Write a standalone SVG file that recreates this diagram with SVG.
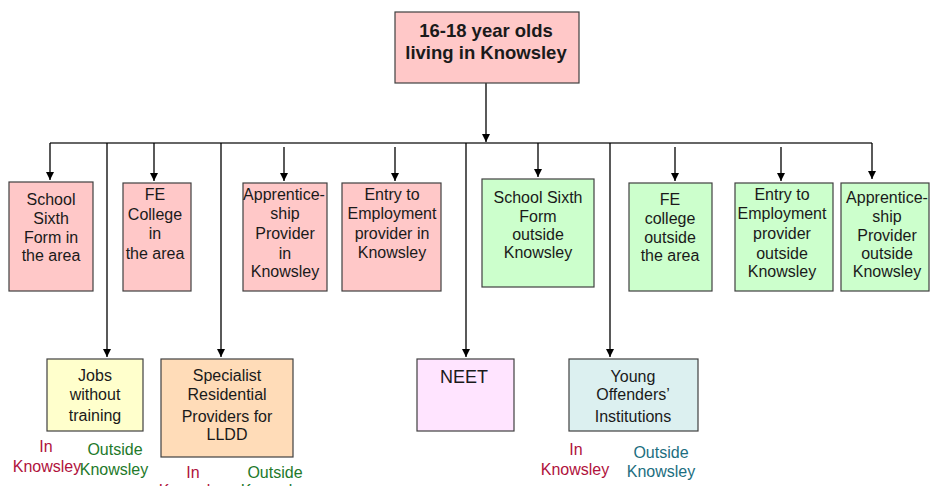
<svg xmlns="http://www.w3.org/2000/svg" width="930" height="486" viewBox="0 0 930 486">
<defs>
<marker id="ah" viewBox="0 0 10 10" refX="10" refY="5" markerWidth="8" markerHeight="8" markerUnits="userSpaceOnUse" orient="auto">
<path d="M0,0 L10,5 L0,10 z" fill="#000"/>
</marker>
<style>
.box{stroke:#404040;stroke-width:1.2}
.pink{fill:#ffc8c8}
.green{fill:#ccffcc}
.yellow{fill:#ffffcc}
.peach{fill:#ffdcb8}
.lilac{fill:#ffe4ff}
.aqua{fill:#dcf0f0}
text{font-family:"Liberation Sans",Arial,sans-serif;font-size:16px;fill:#1a1a1a;text-anchor:middle}
.title{font-size:18.5px;font-weight:bold}
.neet{font-size:18px;text-anchor:start}
.in{fill:#b0123c}
.outg{fill:#23792a}
.outt{fill:#1c6e80}
.ln{stroke:#333;stroke-width:1.3;fill:none}
.ar{stroke:#000;stroke-width:1.3;fill:none;marker-end:url(#ah)}
</style>
</defs>
<g id="connectors">
<line class="ar" x1="486" y1="83" x2="486" y2="142"/>
<line class="ln" x1="50" y1="143" x2="872" y2="143"/>
<line class="ar" x1="50" y1="143" x2="50" y2="180"/>
<line class="ar" x1="154" y1="143" x2="154" y2="181"/>
<line class="ar" x1="284" y1="147" x2="284" y2="181"/>
<line class="ar" x1="395" y1="147" x2="395" y2="181"/>
<line class="ar" x1="538" y1="143" x2="538" y2="177"/>
<line class="ar" x1="675" y1="147" x2="675" y2="181"/>
<line class="ar" x1="781" y1="147" x2="781" y2="181"/>
<line class="ar" x1="872" y1="143" x2="872" y2="179"/>
<line class="ar" x1="107" y1="143" x2="107" y2="357"/>
<line class="ar" x1="221" y1="143" x2="221" y2="357"/>
<line class="ar" x1="466" y1="143" x2="466" y2="357"/>
<line class="ar" x1="610" y1="143" x2="610" y2="357"/>
</g>
<g id="root">
<rect class="box pink" x="395" y="12" width="184" height="71"/>
<text class="title" x="486" y="37">16-18 year olds</text>
<text class="title" x="486" y="59">living in Knowsley</text>
</g>
<g id="school-sixth-in">
<rect class="box pink" x="9" y="182" width="84" height="109"/>
<text x="51" y="205">School</text>
<text x="51" y="224">Sixth</text>
<text x="51" y="243">Form in</text>
<text x="51" y="261">the area</text>
</g>
<g id="fe-college-in">
<rect class="box pink" x="123" y="183" width="68" height="108"/>
<text x="155" y="200">FE</text>
<text x="155" y="220">College</text>
<text x="155" y="239">in</text>
<text x="155" y="259">the area</text>
</g>
<g id="apprenticeship-in">
<rect class="box pink" x="243" y="183" width="84" height="108"/>
<text x="284" y="200">Apprentice-</text>
<text x="285" y="219">ship</text>
<text x="285" y="239">Provider</text>
<text x="285" y="259">in</text>
<text x="285" y="277">Knowsley</text>
</g>
<g id="e2e-in">
<rect class="box pink" x="342" y="183" width="99" height="108"/>
<text x="392" y="200">Entry to</text>
<text x="392" y="219">Employment</text>
<text x="392" y="239">provider in</text>
<text x="392" y="258">Knowsley</text>
</g>
<g id="school-sixth-out">
<rect class="box green" x="482" y="179" width="112" height="108"/>
<text x="538" y="203">School Sixth</text>
<text x="538" y="222">Form</text>
<text x="538" y="240">outside</text>
<text x="538" y="258">Knowsley</text>
</g>
<g id="fe-college-out">
<rect class="box green" x="629" y="183" width="83" height="108"/>
<text x="670" y="205">FE</text>
<text x="670" y="224">college</text>
<text x="670" y="243">outside</text>
<text x="670" y="261">the area</text>
</g>
<g id="e2e-out">
<rect class="box green" x="735" y="183" width="98" height="108"/>
<text x="782" y="200">Entry to</text>
<text x="782" y="219">Employment</text>
<text x="782" y="239">provider</text>
<text x="782" y="259">outside</text>
<text x="782" y="277">Knowsley</text>
</g>
<g id="apprenticeship-out">
<rect class="box green" x="841" y="183" width="88" height="108"/>
<text x="887" y="203">Apprentice-</text>
<text x="887" y="222">ship</text>
<text x="887" y="241">Provider</text>
<text x="887" y="259">outside</text>
<text x="887" y="277">Knowsley</text>
</g>
<g id="jobs">
<rect class="box yellow" x="47" y="359" width="96" height="72"/>
<text x="95" y="381">Jobs</text>
<text x="95" y="400">without</text>
<text x="95" y="421">training</text>
<text class="in" x="46" y="452">In</text>
<text class="in" x="47" y="472">Knowsley</text>
<text class="outg" x="115" y="455">Outside</text>
<text class="outg" x="114" y="475">Knowsley</text>
</g>
<g id="specialist">
<rect class="box peach" x="161" y="359" width="132" height="98"/>
<text x="227" y="381">Specialist</text>
<text x="227" y="400">Residential</text>
<text x="227" y="422">Providers for</text>
<text x="227" y="440">LLDD</text>
<text class="in" x="193" y="478">In</text>
<text class="in" x="193" y="496">Knowsley</text>
<text class="outg" x="275" y="478">Outside</text>
<text class="outg" x="275" y="496">Knowsley</text>
</g>
<g id="neet">
<rect class="box lilac" x="417" y="359" width="97" height="72"/>
<text class="neet" x="440" y="383">NEET</text>
</g>
<g id="yoi">
<rect class="box aqua" x="569" y="359" width="129" height="72"/>
<text x="633" y="382">Young</text>
<text x="633" y="400">Offenders’</text>
<text x="633" y="422">Institutions</text>
<text class="in" x="576" y="455">In</text>
<text class="in" x="575" y="475">Knowsley</text>
<text class="outt" x="661" y="458">Outside</text>
<text class="outt" x="661" y="477">Knowsley</text>
</g>
</svg>
